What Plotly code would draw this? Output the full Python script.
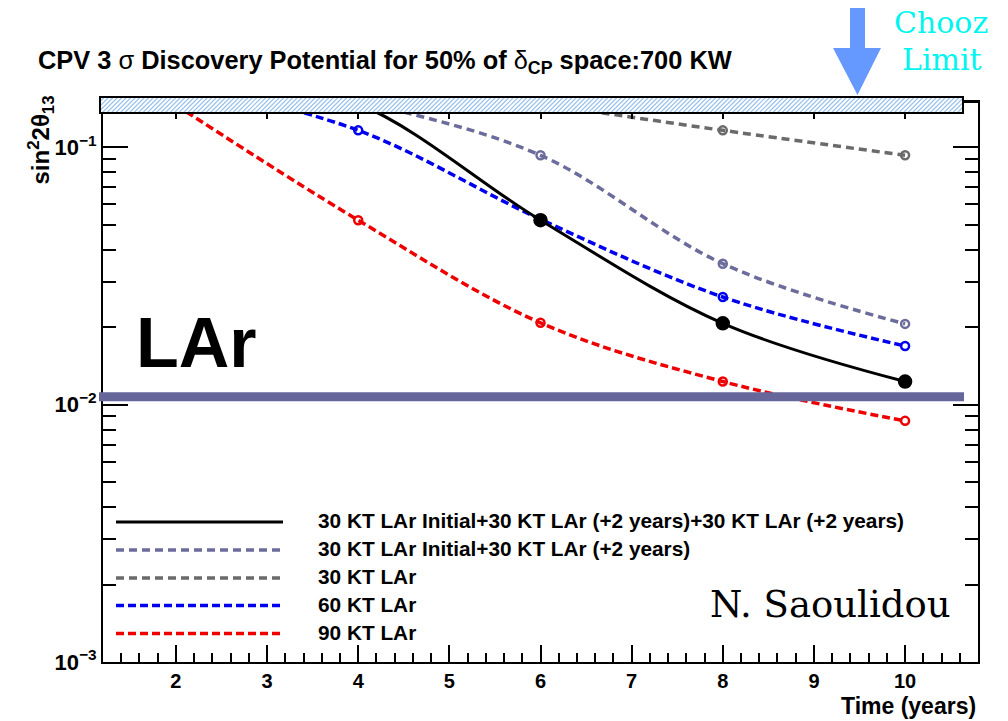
import math
import plotly.graph_objects as go

# ---------------- data ----------------
years = [2, 4, 6, 8, 10]
lar_30_30_30 = [0.22, 0.148, 0.0521, 0.0207, 0.0123]   # black solid
lar_30_30 = [0.22, 0.152, 0.0931, 0.0353, 0.0206]      # slate dashed
lar_30 = [0.22, 0.18, 0.147, 0.1164, 0.0931]           # gray dashed
lar_60 = [0.18, 0.1164, 0.0525, 0.0262, 0.0169]        # blue dashed
lar_90 = [0.146, 0.0521, 0.0208, 0.0123, 0.00865]      # red dashed

series_names = [
    "30 KT LAr Initial+30 KT LAr (+2 years)+30 KT LAr (+2 years)",
    "30 KT LAr Initial+30 KT LAr (+2 years)",
    "30 KT LAr",
    "60 KT LAr",
    "90 KT LAr",
]

x_range = [1.2, 10.8]
y_range = [1e-3, 0.15]

# ---------------- layout geometry (pixels) ----------------
W_PX, H_PX = 1008, 721
L, R, T, B = 103, 978, 102, 662
PW, PH = R - L, B - T


def px(xp):
    return (xp - L) / PW


def py(yp):
    return (B - yp) / PH


SLATE = "#6c6c9c"
GRAY = "#6a6a6a"
BLUE = "#0000ee"
RED = "#ee0000"

styles = [
    dict(color="black", dash="solid", sym="circle", size=12, lw=3),
    dict(color=SLATE, dash="8px,5px", sym="circle-open", size=8, lw=3.5),
    dict(color=GRAY, dash="8px,5px", sym="circle-open", size=8, lw=3.5),
    dict(color=BLUE, dash="8px,4px", sym="circle-open", size=8, lw=3.5),
    dict(color=RED, dash="8px,4px", sym="circle-open", size=8, lw=3.5),
]
series = [lar_30_30_30, lar_30_30, lar_30, lar_60, lar_90]

fig = go.Figure()
draw_order = [2, 1, 4, 3, 0]
for i in draw_order:
    s = styles[i]
    fig.add_trace(go.Scatter(
        x=years, y=series[i], mode="lines+markers", name=series_names[i],
        line=dict(color=s["color"], dash=s["dash"], width=s["lw"], shape="spline", smoothing=1),
        marker=dict(symbol=s["sym"], size=s["size"], color=s["color"],
                    line=dict(color=s["color"], width=2.5)),
        showlegend=False,
    ))

shapes = []
annotations = []

# Chooz limit hatched band
bx0, bx1, by0, by1 = 100, 963, 97, 113
shapes.append(dict(type="rect", xref="paper", yref="paper",
                   x0=px(bx0), x1=px(bx1), y0=py(by1), y1=py(by0),
                   fillcolor="white", line=dict(width=0), layer="above"))
h = by1 - by0
segs = []
xb = bx0 - h
while xb < bx1:
    tmin = max(0.0, (bx0 - xb) / h)
    tmax = min(1.0, (bx1 - xb) / h)
    if tmax > tmin:
        xa, ya = xb + tmin * h, by1 - tmin * h
        xc, yc = xb + tmax * h, by1 - tmax * h
        segs.append(f"M{px(xa):.5f},{py(ya):.5f}L{px(xc):.5f},{py(yc):.5f}")
    xb += 4.5
shapes.append(dict(type="path", xref="paper", yref="paper", path="".join(segs),
                   line=dict(color="#9cc3ec", width=1.2), layer="above"))
shapes.append(dict(type="rect", xref="paper", yref="paper",
                   x0=px(bx0), x1=px(bx1), y0=py(by1), y1=py(by0),
                   fillcolor="rgba(0,0,0,0)", line=dict(color="black", width=2), layer="above"))
# frame top connector right of the band
shapes.append(dict(type="line", xref="paper", yref="paper",
                   x0=px(bx1), x1=1, y0=1, y1=1, line=dict(color="black", width=2)))

# thick horizontal line near 1e-2
shapes.append(dict(type="line", xref="paper", yref="paper",
                   x0=px(99), x1=px(964), y0=py(396.7), y1=py(396.7),
                   line=dict(color="#66669a", width=9), layer="above"))

# arrow
ax = [850, 865, 865, 881, 857.5, 833, 850]
ay = [8, 8, 48, 48, 95, 48, 48]
path = "M" + "L".join(f"{px(a):.5f},{py(b):.5f}" for a, b in zip(ax, ay)) + "Z"
shapes.append(dict(type="path", xref="paper", yref="paper", path=path,
                   fillcolor="#6699ff", line=dict(width=0), layer="above"))

# legend (drawn manually)
leg_y = [522, 550, 578, 605.5, 633.5]
for i, yy in enumerate(leg_y):
    s = styles[i]
    shapes.append(dict(type="line", xref="paper", yref="paper",
                       x0=px(116), x1=px(283), y0=py(yy), y1=py(yy),
                       line=dict(color=s["color"], dash=s["dash"], width=s["lw"])))
    annotations.append(dict(xref="paper", yref="paper", x=px(316), y=py(yy - 1.5),
                            xanchor="left", yanchor="middle", showarrow=False,
                            text=series_names[i],
                            font=dict(family="Liberation Sans", size=20.8, color="black", weight="bold")))

# title
annotations.append(dict(
    xref="paper", yref="paper", x=px(36), y=py(62), xanchor="left", yanchor="middle",
    showarrow=False,
    text="CPV 3 <span style=\"font-weight:normal\">σ</span> Discovery Potential for 50% of "
         "<span style=\"font-weight:normal\">δ</span><sub>CP</sub> space:700 KW",
    font=dict(family="Liberation Sans", size=25.4, color="black", weight="bold")))

# LAr
annotations.append(dict(xref="paper", yref="paper", x=px(196), y=py(343), xanchor="center",
                        yanchor="middle", showarrow=False, text="LAr",
                        font=dict(family="Liberation Sans", size=70, color="black", weight="bold")))
# N. Saoulidou
annotations.append(dict(xref="paper", yref="paper", x=px(830), y=py(604), xanchor="center",
                        yanchor="middle", showarrow=False, text="N. Saoulidou",
                        font=dict(family="DejaVu Serif", size=37, color="black")))
# Chooz Limit
annotations.append(dict(xref="paper", yref="paper", x=px(941), y=py(22), xanchor="center",
                        yanchor="middle", showarrow=False, text="Chooz",
                        font=dict(family="DejaVu Serif", size=30, color="#00f5f0")))
annotations.append(dict(xref="paper", yref="paper", x=px(942), y=py(59), xanchor="center",
                        yanchor="middle", showarrow=False, text="Limit",
                        font=dict(family="DejaVu Serif", size=30, color="#00f5f0")))
# axis titles
annotations.append(dict(xref="paper", yref="paper", x=px(40), y=py(94), xanchor="center",
                        yanchor="top", showarrow=False, textangle=-90,
                        text="sin<sup>2</sup>2θ<sub>13</sub>",
                        font=dict(family="Liberation Sans", size=24, color="black", weight="bold")))
annotations.append(dict(xref="paper", yref="paper", x=1, y=py(706), xanchor="right",
                        yanchor="middle", showarrow=False, text="Time (years)",
                        font=dict(family="Liberation Sans", size=23, color="black", weight="bold")))

y_ticks = [1e-3, 1e-2, 1e-1]
y_ticktext = ["10<sup>−3</sup>", "10<sup>−2</sup>", "10<sup>−1</sup>"]
y_minor = [m * 10 ** e for e in (-3, -2, -1) for m in range(2, 10) if m * 10 ** e <= y_range[1]]

fig.update_layout(
    width=W_PX, height=H_PX,
    margin=dict(l=L, r=W_PX - R, t=T, b=H_PX - B),
    paper_bgcolor="white", plot_bgcolor="white",
    shapes=shapes, annotations=annotations,
    xaxis=dict(range=x_range, tick0=0, dtick=1, ticks="inside", ticklen=17, tickwidth=2,
               tickcolor="black", showline=True, linewidth=2, linecolor="black", mirror="ticks",
               showgrid=False, zeroline=False,
               tickfont=dict(family="Liberation Sans", size=20, color="black", weight="bold"),
               minor=dict(dtick=0.2, tick0=0, ticks="inside", ticklen=9, tickwidth=2,
                          tickcolor="black", showgrid=False)),
    yaxis=dict(type="log", range=[math.log10(y_range[0]), math.log10(y_range[1])],
               tickmode="array", tickvals=y_ticks, ticktext=y_ticktext,
               ticks="inside", ticklen=25, tickwidth=2, tickcolor="black",
               showline=True, linewidth=2, linecolor="black", mirror="ticks",
               showgrid=False, zeroline=False,
               tickfont=dict(family="Liberation Sans", size=22, color="black", weight="bold"),
               minor=dict(tickmode="array", tickvals=y_minor, ticks="inside", ticklen=13,
                          tickwidth=2, tickcolor="black", showgrid=False)),
)

fig.write_html("out.html")
